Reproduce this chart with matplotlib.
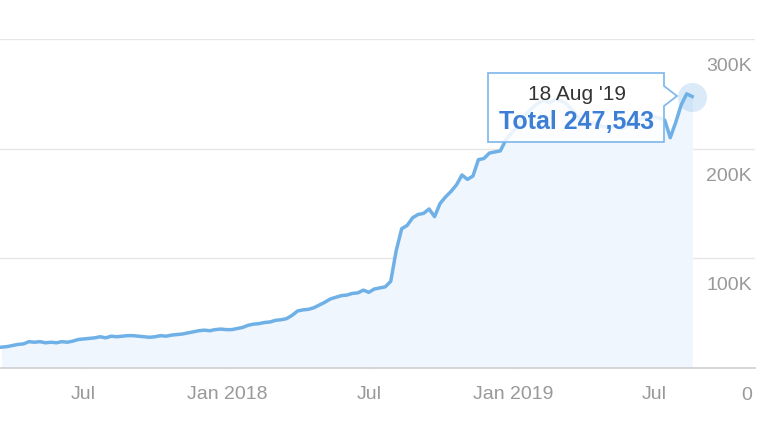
import matplotlib
matplotlib.use("Agg")
import matplotlib.pyplot as plt
import pandas as pd
import numpy as np
from matplotlib.patches import Polygon

plt.rcParams['font.family'] = ['Liberation Sans', 'DejaVu Sans']

# ---- data (weekly readings, thousands) ----
start_date = "2017-03-19"
end_date = "2019-08-18"
values_k = [
    19, 19.5, 20.5, 21.5, 22, 24, 23.5, 24, 23, 23.5,
    23, 24, 23.5, 24.5, 26, 26.5, 27, 27.5, 28.5, 27.5,
    29, 28.5, 29, 29.5, 29.5, 29, 28.5, 28, 28.5, 29.5,
    29, 30, 30.5, 31, 32, 33, 34, 34.5, 34, 35,
    35.5, 35, 35, 36, 37, 39, 40, 40.5, 41.5, 42,
    43.5, 44, 45, 48, 52, 53, 53.5, 55, 57.5, 60,
    63, 64.5, 66, 66.5, 68, 68.5, 71, 69, 72, 73,
    74, 79, 107, 127, 130, 137, 140, 141, 145, 138,
    150, 156, 161, 167, 176, 172, 175, 190, 191, 196,
    197, 198, 208, 214, 219, 228, 233, 238, 242, 244,
    242, 245, 244, 241, 236, 230, 224, 222, 224, 221,
    220, 219, 221, 218, 220, 223, 226, 228, 227, 229,
    228, 226, 210, 224, 240, 250, 247.543,
]
dates = pd.date_range(start_date, end_date, freq="7D")
values = np.array(values_k) * 1000

x_ticks = ["2017-07-01", "2018-01-01", "2018-07-01", "2019-01-01", "2019-07-01"]
x_tick_labels = ["Jul", "Jan 2018", "Jul", "Jan 2019", "Jul"]
y_ticks = [0, 100000, 200000, 300000]
y_tick_labels = ["0", "100K", "200K", "300K"]
tooltip_date = "18 Aug '19"
tooltip_value = "Total 247,543"

# ---- figure ----
W, H = 760, 427
fig = plt.figure(figsize=(W / 100, H / 100), dpi=100)
left_px, right_px, top_px, bottom_px = 0, 755, 40, 369
ax = fig.add_axes([left_px / W, 1 - bottom_px / H,
                   (right_px - left_px) / W, (bottom_px - top_px) / H])

line_color = "#6fb1e6"
ax.fill_between(dates, values, 0, color="#f0f6fe", lw=0, zorder=1)
ax.plot(dates, values, color=line_color, lw=2.5, zorder=3,
        solid_joinstyle="round")
ax.scatter([dates[-1]], [values[-1]], s=440, color="#7cb5ec", alpha=0.28,
           lw=0, zorder=2)

xmin = pd.Timestamp("2017-03-17")
px_per_day = 0.783
xmax = xmin + pd.Timedelta(days=(right_px - left_px) / px_per_day)
ax.set_xlim(xmin, xmax)
ax.set_ylim(0, 300000)

for s in ["top", "right", "left"]:
    ax.spines[s].set_visible(False)
ax.spines["bottom"].set_color("#cfcfcf")
ax.spines["bottom"].set_linewidth(1.2)

ax.set_xticks(pd.to_datetime(x_ticks))
ax.set_xticklabels(x_tick_labels)
ax.tick_params(axis="x", direction="in", length=8, width=1, color="#cfcfcf",
               pad=12, labelsize=14, labelcolor="#999999")

ax.set_yticks(y_ticks)
ax.set_yticklabels([])
ax.tick_params(axis="y", length=0)
ax.yaxis.grid(True, color="#e6e6e6", lw=1)
ax.set_axisbelow(True)

for v, lab in zip(y_ticks, y_tick_labels):
    ax.annotate(lab, xy=(1 - 3 / (right_px - left_px), v),
                xycoords=("axes fraction", "data"),
                xytext=(0, -19), textcoords="offset points",
                ha="right", va="center", fontsize=14, color="#999999")

# ---- tooltip ----
def fpx(x, y):
    return (x / W, 1 - y / H)

bx0, bx1, by0, by1 = 488, 664, 74, 143
pts = [fpx(bx0, by0), fpx(bx1, by0), fpx(bx1, 87), fpx(677, 97),
       fpx(bx1, 107), fpx(bx1, by1), fpx(bx0, by1)]
poly = Polygon(pts, closed=True, transform=fig.transFigure,
               facecolor="white", alpha=0.85, edgecolor="none", zorder=5)
fig.patches.append(poly)
poly2 = Polygon(pts, closed=True, transform=fig.transFigure,
                facecolor="none", edgecolor="#7cb5ec", lw=1.2, zorder=6)
fig.patches.append(poly2)
fig.text(*fpx(577, 94), tooltip_date, ha="center", va="center",
         fontsize=15, color="#333333", zorder=7)
fig.text(*fpx(577, 122), tooltip_value, ha="center", va="center",
         fontsize=18, fontweight="bold", color="#3e7fd6", zorder=7)

fig.savefig("out.png", dpi=100)
